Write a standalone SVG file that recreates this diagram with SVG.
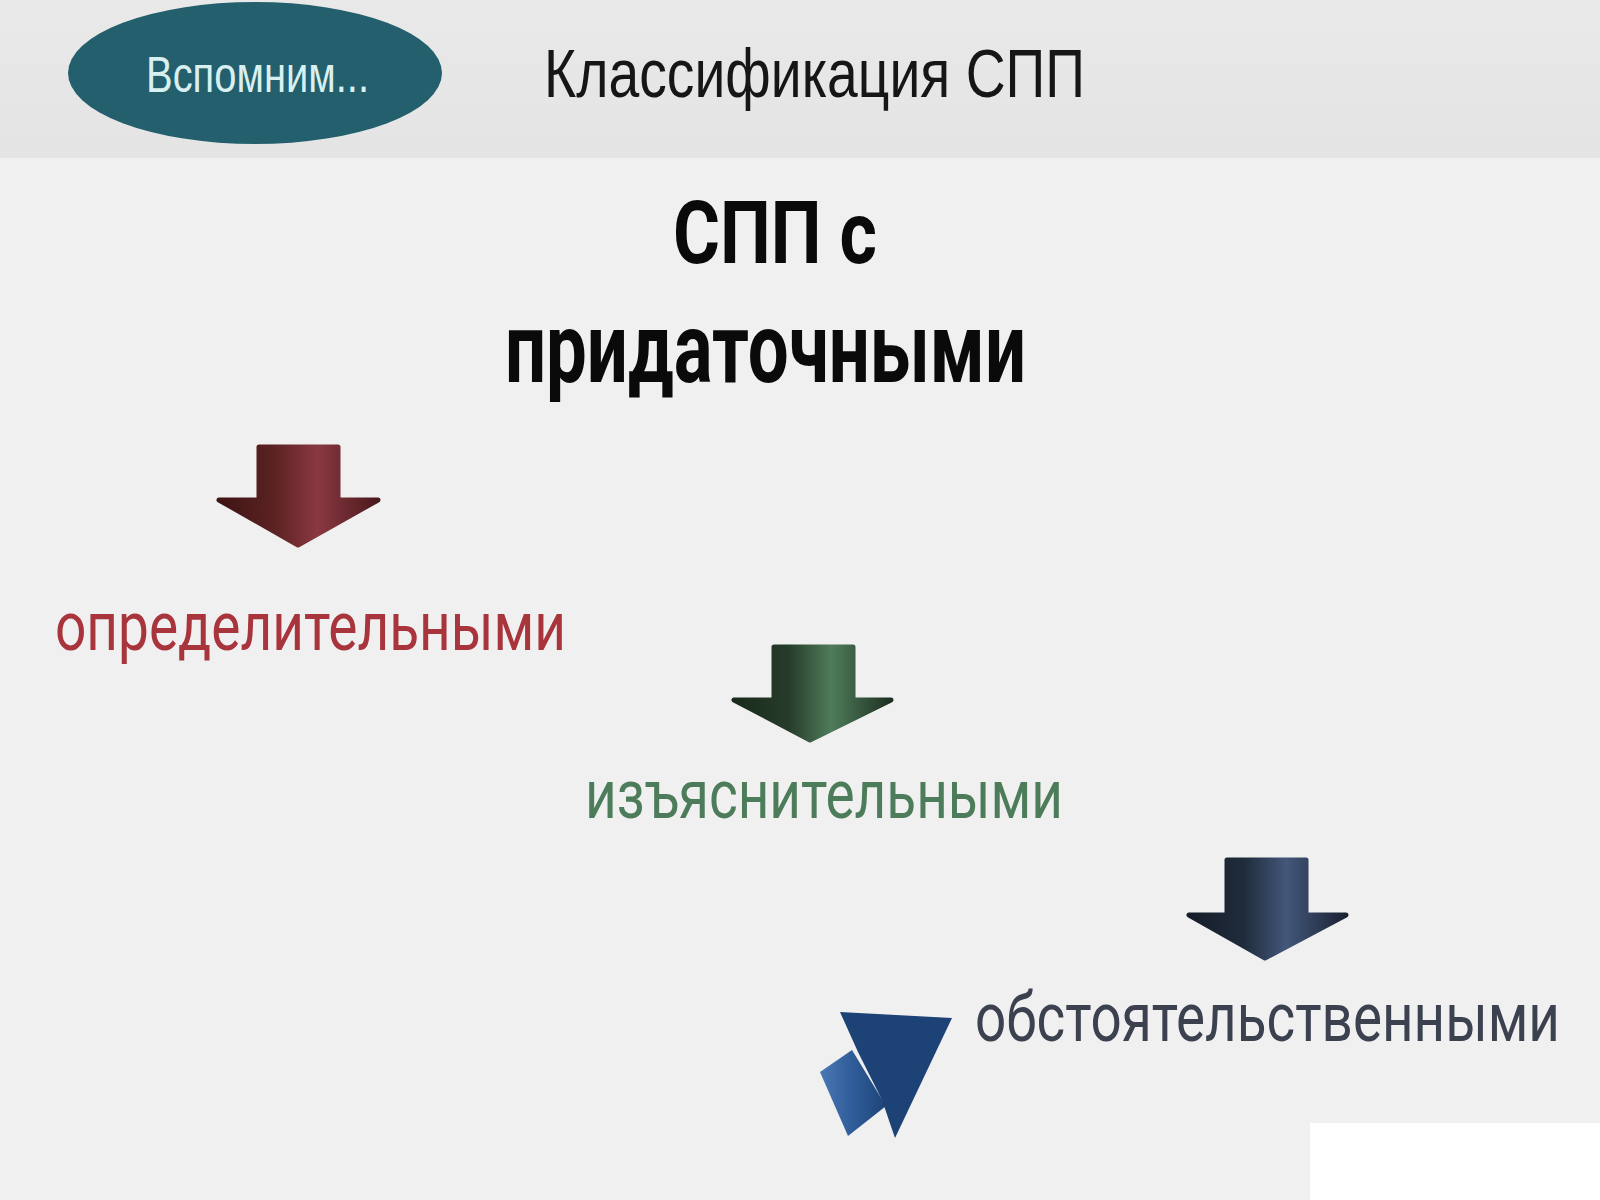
<svg xmlns="http://www.w3.org/2000/svg" width="1600" height="1200" viewBox="0 0 1600 1200">
  <defs>
    <linearGradient id="gRed" x1="0" y1="0" x2="1" y2="0">
      <stop offset="0" stop-color="#3e1414"/>
      <stop offset="0.35" stop-color="#5c2222"/>
      <stop offset="0.62" stop-color="#8a3842"/>
      <stop offset="1" stop-color="#4a1a1c"/>
    </linearGradient>
    <linearGradient id="gGreen" x1="0" y1="0" x2="1" y2="0">
      <stop offset="0" stop-color="#1a2a1c"/>
      <stop offset="0.35" stop-color="#263c2a"/>
      <stop offset="0.62" stop-color="#4f7c5a"/>
      <stop offset="1" stop-color="#1e3022"/>
    </linearGradient>
    <linearGradient id="gBlue" x1="0" y1="0" x2="1" y2="0">
      <stop offset="0" stop-color="#151d28"/>
      <stop offset="0.35" stop-color="#202c3c"/>
      <stop offset="0.62" stop-color="#43577a"/>
      <stop offset="1" stop-color="#1a2232"/>
    </linearGradient>
    <linearGradient id="gCursor" x1="0" y1="0" x2="1" y2="0">
      <stop offset="0" stop-color="#4a78b4"/>
      <stop offset="0.5" stop-color="#2f5c98"/>
      <stop offset="1" stop-color="#1d4478"/>
    </linearGradient>
    <linearGradient id="gBand" x1="0" y1="0" x2="0" y2="1">
      <stop offset="0" stop-color="#e9e9e9"/>
      <stop offset="1" stop-color="#e4e4e4"/>
    </linearGradient>
  </defs>
  <style>
    .lbl { font-family: Roboto, "Liberation Sans", sans-serif; font-size: 68px; }
    .arrow { stroke-linejoin: round; stroke-width: 5; }
  </style>

  <!-- background -->
  <rect x="0" y="0" width="1600" height="1200" fill="#f0f0f0"/>
  <rect x="0" y="0" width="1600" height="158" fill="url(#gBand)"/>
  <rect x="1310" y="1123" width="290" height="77" fill="#ffffff"/>

  <g id="badge">
    <ellipse cx="255" cy="73" rx="187" ry="71" fill="#245f6e"/>
    <text x="146" y="92" font-family="'Liberation Sans', Arial, sans-serif" font-size="50" fill="#d8f0f0" textLength="223" lengthAdjust="spacingAndGlyphs">Вспомним...</text>
  </g>

  <g id="header">
    <text x="544" y="97" font-family="'Liberation Sans', Arial, sans-serif" font-size="68" fill="#161616" textLength="541" lengthAdjust="spacingAndGlyphs">Классификация СПП</text>
  </g>

  <g id="title">
    <text x="673" y="263" font-family="Roboto, 'Liberation Sans', sans-serif" font-weight="700" font-size="88" fill="#0a0a0a" textLength="204" lengthAdjust="spacingAndGlyphs">СПП с</text>
    <text x="505" y="382" font-family="Roboto, 'Liberation Sans', sans-serif" font-weight="700" font-size="98" fill="#0a0a0a" textLength="521" lengthAdjust="spacingAndGlyphs">придаточными</text>
  </g>

  <g id="connectors">
    <path class="arrow" fill="url(#gRed)" stroke="url(#gRed)" d="M259,447 L338,447 L338,500 L378,500 L298,545 L219,500 L259,500 Z"/>
    <path class="arrow" fill="url(#gGreen)" stroke="url(#gGreen)" d="M774,647 L853,647 L853,700 L891,700 L810,740 L734,700 L774,700 Z"/>
    <path class="arrow" fill="url(#gBlue)" stroke="url(#gBlue)" d="M1227,860 L1306,860 L1306,915 L1346,915 L1265,958 L1189,915 L1227,915 Z"/>
  </g>

  <g id="node-opredelitelnymi">
    <text class="lbl" x="55" y="650" fill="#a8343c" textLength="511" lengthAdjust="spacingAndGlyphs">определительными</text>
  </g>

  <g id="node-izyasnitelnymi">
    <text class="lbl" x="585" y="818" fill="#4d7c5a" textLength="478" lengthAdjust="spacingAndGlyphs">изъяснительными</text>
  </g>

  <g id="node-obstoyatelstvennymi">
    <text class="lbl" x="975" y="1041" fill="#3c4150" textLength="585" lengthAdjust="spacingAndGlyphs">обстоятельственными</text>
  </g>

  <g id="cursor">
    <path d="M852,1050 L820,1072 L848,1136 L886,1106 Z" fill="url(#gCursor)"/>
    <path d="M840,1012 L952,1018 L895,1138 L882,1100 L858,1052 Z" fill="#1c4276"/>
  </g>
</svg>
